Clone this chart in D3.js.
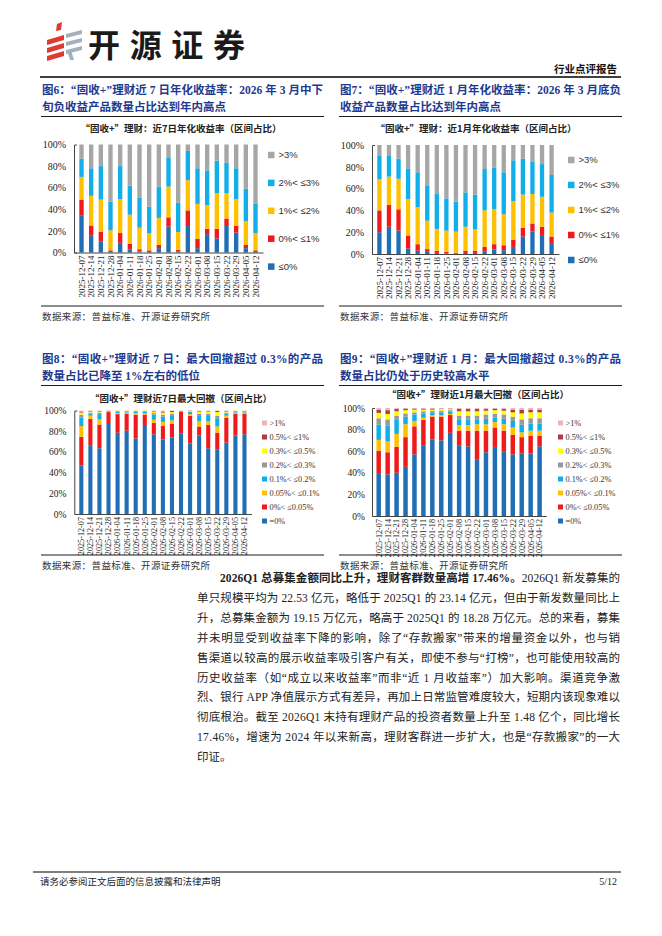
<!DOCTYPE html>
<html>
<head>
<meta charset="utf-8">
<script src="https://d3js.org/d3.v7.min.js"></script>
<style>
  body { margin: 0; background: #fff; }
</style>
</head>
<body>
<svg id="page" width="662" height="936"></svg>

<script>
// ---- data ----
var dates = ["2025-12-07","2025-12-14","2025-12-21","2025-12-28","2026-01-04","2026-01-11","2026-01-18",
  "2026-01-25","2026-02-01","2026-02-08","2026-02-15","2026-02-22","2026-03-01","2026-03-08",
  "2026-03-15","2026-03-22","2026-03-29","2026-04-05","2026-04-12"];

var yTicks = [0, 20, 40, 60, 80, 100];

// fig 6: 近7日年化收益率 (%)
var y7_le0 = [34, 15.5, 10, 0.5, 9, 3, 1, 0.5, 4, 24, 1, 24.5, 4, 17, 13, 24.5, 18.5, 4, 0.5];
var y7_0_1 = [15, 9.5, 9, 1.5, 9, 5, 2, 1.5, 3, 8.5, 1.5, 14.5, 8.5, 5, 9, 7, 6.5, 3, 1.5];
var y7_1_2 = [21, 27.5, 30, 18.5, 31.5, 27, 20, 16, 25, 28.5, 16.5, 28, 32.5, 22, 33, 23.5, 24.5, 22, 16];
var y7_2_3 = [17, 25.5, 31, 26.5, 30.5, 27, 28, 24.5, 29, 26.5, 27, 27, 33, 32, 30, 28, 28.5, 30, 27];
var y7_gt3 = [13, 22, 20, 53, 20, 38, 49, 57.5, 39, 12.5, 54, 6, 22, 24, 15, 17, 22, 41, 55];

// fig 7: 近1月年化收益率 (%)
var m1_le0 = [20, 25, 21.5, 5, 3, 2, 1, 0.5, 0.3, 1, 1, 2, 4, 3.5, 6.5, 16, 20.5, 17.5, 10];
var m1_0_1 = [20, 20, 19.5, 12, 6, 2.5, 2, 1.5, 0.7, 2, 2, 4.5, 5, 4.5, 6.5, 8, 7.5, 7.5, 6];
var m1_1_2 = [28.5, 26, 28, 33.5, 34, 26, 20, 19.5, 19.5, 22, 19.5, 33.5, 32, 28.5, 35.5, 30.5, 27, 27.5, 22];
var m1_2_3 = [21.5, 19, 18.5, 28, 32, 32.5, 32, 29.5, 27.5, 31.5, 32, 38, 38, 38.5, 37.5, 33, 30, 30, 34.5];
var m1_gt3 = [10, 10, 12.5, 21.5, 25, 37, 45, 49, 52, 43.5, 45.5, 22, 21, 25, 14, 12.5, 15, 17.5, 27.5];

// fig 8: 近7日最大回撤 (%)
var d7_eq0   = [47, 66.5, 63.5, 87, 78.5, 80.5, 73, 85, 77, 72, 74, 78, 68, 76, 63.5, 62.5, 69, 76, 77];
var d7_0_005 = [27.5, 25.5, 23, 11.5, 18, 16.5, 23, 11, 11, 13, 13, 21, 27, 8.5, 22.5, 16, 24, 21, 20];
var d7_005_01 = [10.5, 3, 5, 0.5, 1, 1, 1.5, 1, 3, 4, 3.5, 0.3, 1.5, 5, 3.5, 6, 2, 1, 1];
var d7_01_02 = [8, 2, 5, 0.5, 1.5, 1, 1.5, 2, 5, 5, 5, 0.3, 2, 6, 6, 8, 2, 1, 1];
var d7_02_03 = [3, 1, 1.5, 0.2, 0.5, 0.5, 0.5, 0.5, 1.5, 2, 1.5, 0.2, 0.5, 1.5, 1.5, 2.5, 1, 0.5, 0.5];
var d7_03_05 = [2, 1, 1, 0.1, 0.3, 0.3, 0.3, 0.3, 1.5, 2, 1.5, 0.1, 0.5, 2, 2, 3.5, 1, 0.3, 0.3];
var d7_05_1  = [1, 0.5, 0.5, 0.1, 0.1, 0.1, 0.1, 0.1, 0.5, 1, 1, 0.05, 0.3, 0.5, 0.5, 1, 0.5, 0.1, 0.1];
var d7_gt1   = [1, 0.5, 0.5, 0.1, 0.1, 0.1, 0.1, 0.1, 0.5, 1, 0.5, 0.05, 0.2, 0.5, 0.5, 0.5, 0.5, 0.1, 0.1];

// fig 9: 近1月最大回撤 (%)
var d1_eq0   = [39, 38.5, 40, 45.5, 57, 65, 71, 70, 77, 65, 64.5, 52, 59, 64, 60, 57, 58, 58, 64.5];
var d1_0_005 = [21.5, 20.5, 24, 27.5, 26, 24, 21, 22, 16.5, 14, 14.5, 27, 20, 18, 19, 18, 15, 16.5, 10];
var d1_005_01 = [10, 10, 12, 12, 5, 2, 1.5, 1.5, 1, 5, 5, 6, 6, 5, 6, 7, 4.5, 4.5, 4.5];
var d1_01_02 = [14, 14.5, 13, 7, 6, 4, 2.5, 2.5, 2, 5, 5, 4, 5, 4, 5, 6, 7, 6.5, 6.5];
var d1_02_03 = [6, 6, 4, 3, 2, 2, 1.5, 1.5, 1.5, 4, 4, 4, 4, 3.5, 4, 4, 5, 5, 5];
var d1_03_05 = [5, 5, 4, 3, 2.5, 1.5, 1, 1.5, 1, 4, 4, 4, 3.5, 3.5, 3.5, 4, 5.5, 5.5, 5.5];
var d1_05_1  = [3, 3.5, 2, 1.5, 1, 1, 1, 0.5, 0.5, 2, 2, 2, 1.5, 1.5, 1.5, 2.5, 3.5, 2.5, 2.5];
var d1_gt1   = [1.5, 2, 1, 0.5, 0.5, 0.5, 0.5, 0.5, 0.5, 1, 1, 1, 1, 0.5, 1, 1.5, 1.5, 1.5, 1.5];

var yieldKeys = ["≤0%", "0%< ≤1%", "1%< ≤2%", "2%< ≤3%", ">3%"];
var yieldColors = ["#1f6eb6", "#f01a1a", "#ffc000", "#12aee8", "#a6a6a6"];
var ddKeys = ["=0%", "0%< ≤0.05%", "0.05%< ≤0.1%", "0.1%< ≤0.2%", "0.2%< ≤0.3%", "0.3%< ≤0.5%", "0.5%< ≤1%", ">1%"];
var ddColors = ["#1f6eb6", "#f01a1a", "#ffc000", "#12aee8", "#999999", "#ffff00", "#b23a3a", "#e6b9b8"];

var svg = d3.select("#page");
var CJK = "'Noto Sans CJK SC', sans-serif";
var MIX = "'Liberation Serif', 'Noto Sans CJK SC', serif";
var TITLE_BLUE = "#1d3a8f";

// ---- header ----
var logo = svg.append("g");
logo.append("polygon").attr("points", "57,24 62,22 61,30 56,31").attr("fill", "#e03a2f");
[[35], [43], [51]].forEach(function (r, i) {
  var t = r[0];
  logo.append("polygon").attr("points", "47," + (t + 5) + " 64," + t + " 64," + (t + 5) + " 47," + (t + 10))
    .attr("fill", "#e03a2f");
  logo.append("polygon").attr("points", "66," + (t - 1) + " 82," + (t - 5) + " 82," + (t - 1) + " 66," + (t + 3))
    .attr("fill", "#a3b1bf");
});
logo.append("polygon").attr("points", "67,50 71,50 74,60 70,60").attr("fill", "#a3b1bf");

svg.append("text").attr("x", 88).attr("y", 57).attr("textLength", 157)
  .style("font-family", CJK).style("font-weight", 700).style("font-size", "32px").attr("fill", "#1a1a1a")
  .text("开源证券");
svg.append("text").attr("x", 617).attr("y", 73).attr("text-anchor", "end")
  .style("font-family", CJK).style("font-weight", 700).style("font-size", "10.5px").attr("fill", "#111")
  .text("行业点评报告");
svg.append("line").attr("x1", 40).attr("x2", 621).attr("y1", 77).attr("y2", 77)
  .attr("stroke", "#000").attr("stroke-width", 1.3);

// ---- figure titles ----
function figTitle(x, y, l1, l2, w) {
  svg.append("text").attr("x", x).attr("y", y).attr("textLength", w)
    .style("font-family", MIX).style("font-weight", 700).style("font-size", "11.5px").attr("fill", TITLE_BLUE)
    .text(l1);
  svg.append("text").attr("x", x).attr("y", y + 17)
    .style("font-family", MIX).style("font-weight", 700).style("font-size", "11.5px").attr("fill", TITLE_BLUE)
    .text(l2);
  svg.append("line").attr("x1", x - 1).attr("x2", x + w + 1).attr("y1", y + 22.5).attr("y2", y + 22.5)
    .attr("stroke", "#000").attr("stroke-width", 0.9);
}
figTitle(42, 94, "图6：“固收+”理财近 7 日年化收益率：2026 年 3 月中下", "旬负收益产品数量占比达到年内高点", 281);
figTitle(340, 94, "图7：“固收+”理财近 1 月年化收益率：2026 年 3 月底负", "收益产品数量占比达到年内高点", 281);
figTitle(42, 363, "图8：“固收+”理财近 7 日：最大回撤超过 0.3%的产品", "数量占比已降至 1%左右的低位", 281);
figTitle(340, 363, "图9：“固收+”理财近 1 月：最大回撤超过 0.3%的产品", "数量占比仍处于历史较高水平", 281);

// ---- charts ----
function stacked(series, keys, colors, box) {
  var rows = dates.map(function (d, i) {
    var r = { date: d };
    keys.forEach(function (k, j) { r[k] = series[j][i]; });
    return r;
  });
  var x = d3.scaleBand().domain(dates).range([box.x0, box.x1]).padding(box.pad);
  var y = d3.scaleLinear().domain([0, 100]).range([box.y0, box.y1]);
  var g = svg.append("g");

  g.append("text").attr("x", box.tx).attr("y", box.ty).attr("text-anchor", "middle")
    .style("font-family", CJK).style("font-weight", 700).style("font-size", "9.5px").attr("fill", "#222")
    .text(box.title);

  g.selectAll("g.layer").data(d3.stack().keys(keys)(rows)).join("g")
    .attr("class", "layer").attr("fill", function (d, i) { return colors[i]; })
    .selectAll("rect").data(function (d) { return d; }).join("rect")
    .attr("x", function (d) { return x(d.data.date); })
    .attr("width", x.bandwidth())
    .attr("y", function (d) { return y(d[1]); })
    .attr("height", function (d) { return y(d[0]) - y(d[1]); });

  var ya = g.append("g").attr("transform", "translate(" + box.x0 + ",0)")
    .call(d3.axisLeft(y).tickValues(yTicks).tickFormat(function (d) { return d + "%"; })
      .tickSize(0).tickSizeOuter(-3).tickPadding(box.tp));
  ya.select(".domain").attr("stroke", "#444");
  ya.selectAll("text").style("font-family", "'Liberation Serif', serif").style("font-size", box.yfs + "px").attr("fill", "#222");

  var xa = g.append("g").attr("transform", "translate(0," + box.y0 + ")")
    .call(d3.axisBottom(x).tickSize(0).tickSizeOuter(0));
  xa.select(".domain").attr("stroke", "#444");
  xa.selectAll("text").attr("transform", "rotate(-90)").attr("text-anchor", "end")
    .attr("x", -3).attr("y", 0).attr("dy", "0.35em")
    .style("font-family", "'Liberation Serif', serif").style("font-size", box.xfs + "px").attr("fill", "#222");

  var leg = g.append("g");
  var order = keys.slice().reverse();
  var colRev = colors.slice().reverse();
  order.forEach(function (k, i) {
    var cy = box.ly + i * box.lstep;
    leg.append("rect").attr("x", box.lx).attr("y", cy - box.ls / 2).attr("width", box.ls).attr("height", box.ls)
      .attr("fill", colRev[i]);
    leg.append("text").attr("x", box.lx + box.ls + box.lgap).attr("y", cy).attr("dy", "0.35em")
      .style("font-family", box.lfont).style("font-size", box.lfs + "px").attr("fill", "#333").text(k);
  });
}

stacked([y7_le0, y7_0_1, y7_1_2, y7_2_3, y7_gt3], yieldKeys, yieldColors,
  { x0: 74, x1: 263, y0: 252.5, y1: 144.5, pad: 0.55, tp: 8, yfs: 10, xfs: 9,
    title: "“固收+”理财：近7日年化收益率（区间占比）", tx: 181, ty: 132,
    lx: 268, ly: 155, lstep: 27.9, ls: 6.5, lgap: 4, lfs: 9.5, lfont: "'Liberation Sans', Arial, sans-serif" });

stacked([m1_le0, m1_0_1, m1_1_2, m1_2_3, m1_gt3], yieldKeys, yieldColors,
  { x0: 372, x1: 559, y0: 254, y1: 145, pad: 0.55, tp: 8, yfs: 10, xfs: 9,
    title: "“固收+”理财：近1月年化收益率（区间占比）", tx: 476, ty: 132,
    lx: 568, ly: 160, lstep: 25, ls: 6.5, lgap: 4, lfs: 9.5, lfont: "'Liberation Sans', Arial, sans-serif" });

stacked([d7_eq0, d7_0_005, d7_005_01, d7_01_02, d7_02_03, d7_03_05, d7_05_1, d7_gt1], ddKeys, ddColors,
  { x0: 74.3, x1: 251.5, y0: 514, y1: 410.5, pad: 0.55, tp: 8, yfs: 9.5, xfs: 8.2,
    title: "“固收+”理财近7日最大回撤（区间占比）", tx: 181, ty: 402,
    lx: 262, ly: 423, lstep: 14, ls: 5, lgap: 2.5, lfs: 8.3, lfont: "'Liberation Serif', serif" });

stacked([d1_eq0, d1_0_005, d1_005_01, d1_01_02, d1_02_03, d1_03_05, d1_05_1, d1_gt1], ddKeys, ddColors,
  { x0: 372, x1: 546.3, y0: 516, y1: 408, pad: 0.5, tp: 7, yfs: 9.5, xfs: 8.2,
    title: "“固收+”理财近1月最大回撤（区间占比）", tx: 478, ty: 398,
    lx: 558, ly: 423, lstep: 14, ls: 5, lgap: 2.5, lfs: 8.3, lfont: "'Liberation Serif', serif" });

// ---- source lines ----
function source(x, y, w) {
  svg.append("line").attr("x1", x - 1).attr("x2", x + w).attr("y1", y - 10).attr("y2", y - 10)
    .attr("stroke", "#000").attr("stroke-width", 0.9);
  svg.append("text").attr("x", x).attr("y", y + 4).attr("textLength", 168)
    .style("font-family", CJK).style("font-size", "9.5px").attr("fill", "#333")
    .text("数据来源：普益标准、开源证券研究所");
}
source(42, 316, 282);
source(340, 316, 282);
source(42, 565, 282);
source(340, 565, 282);

// ---- body text ----
var bodyLines = [
  "单只规模平均为 22.53 亿元，略低于 2025Q1 的 23.14 亿元，但由于新发数量同比上",
  "升，总募集金额为 19.15 万亿元，略高于 2025Q1 的 18.28 万亿元。总的来看，募集",
  "并未明显受到收益率下降的影响，除了“存款搬家”带来的增量资金以外，也与销",
  "售渠道以较高的展示收益率吸引客户有关，即使不参与“打榜”，也可能使用较高的",
  "历史收益率（如“成立以来收益率”而非“近 1 月收益率”）加大影响。渠道竞争激",
  "烈、银行 APP 净值展示方式有差异，再加上日常监管难度较大，短期内该现象难以",
  "彻底根治。截至 2026Q1 末持有理财产品的投资者数量上升至 1.48 亿个，同比增长",
  "17.46%，增速为 2024 年以来新高，理财客群进一步扩大，也是“存款搬家”的一大",
  "印证。"
];
var bodyTop = 582, bodyStep = 19.9;
var first = svg.append("text").attr("x", 220).attr("y", bodyTop).attr("textLength", 400)
  .style("font-family", MIX).style("font-size", "11.5px").attr("fill", "#222");
first.append("tspan").style("font-weight", 700).text("2026Q1 总募集金额同比上升，理财客群数量高增 17.46%。");
first.append("tspan").text("2026Q1 新发募集的");
bodyLines.forEach(function (t, i) {
  var tx = svg.append("text").attr("x", 197).attr("y", bodyTop + (i + 1) * bodyStep)
    .style("font-family", MIX).style("font-size", "11.5px").attr("fill", "#222").text(t);
  if (i < bodyLines.length - 1) tx.attr("textLength", 423);
});

// ---- footer ----
svg.append("line").attr("x1", 33).attr("x2", 621).attr("y1", 872).attr("y2", 872)
  .attr("stroke", "#000").attr("stroke-width", 1);
svg.append("text").attr("x", 40).attr("y", 885)
  .style("font-family", CJK).style("font-size", "9.5px").attr("fill", "#222")
  .text("请务必参阅正文后面的信息披露和法律声明");
svg.append("text").attr("x", 617).attr("y", 885).attr("text-anchor", "end")
  .style("font-family", "'Liberation Serif', serif").style("font-size", "10px").attr("fill", "#222")
  .text("5/12");
</script>
</body>
</html>
